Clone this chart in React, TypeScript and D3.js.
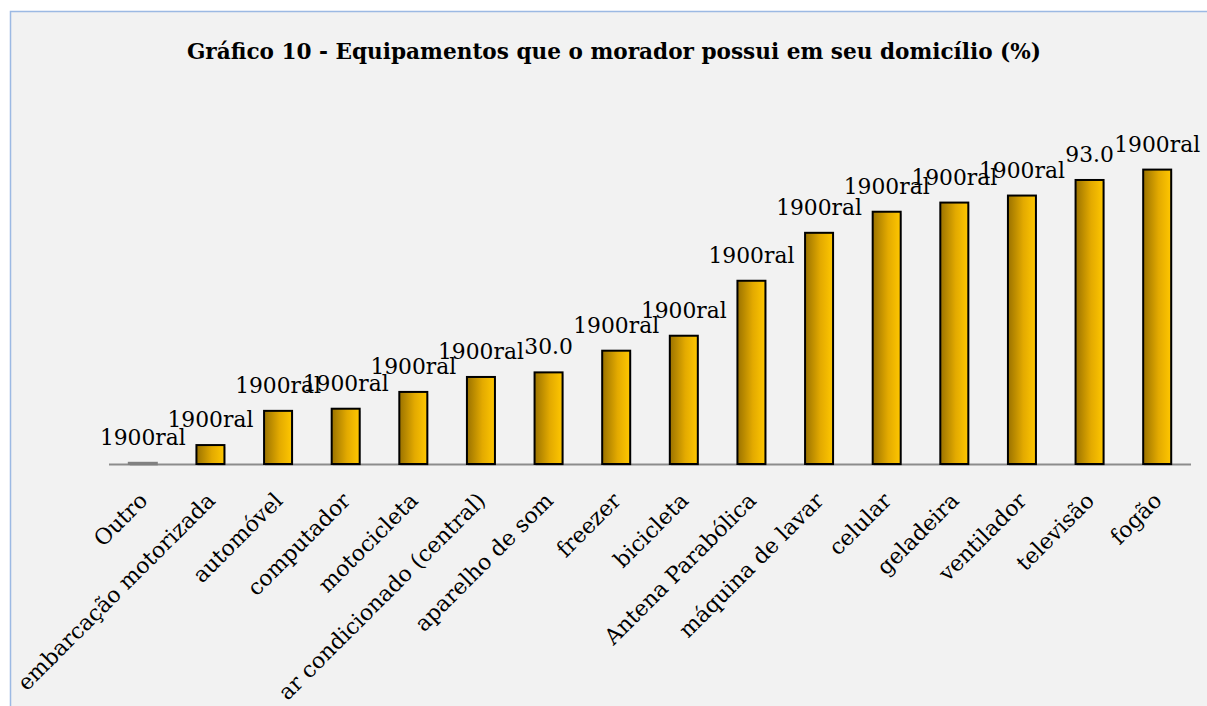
import React, { useEffect, useRef } from "react";
import * as d3 from "d3";

const categories = [
  "Outro", "embarcação motorizada", "automóvel", "computador", "motocicleta",
  "ar condicionado (central)", "aparelho de som", "freezer", "bicicleta",
  "Antena Parabólica", "máquina de lavar", "celular", "geladeira",
  "ventilador", "televisão", "fogão",
];
const values = [0.4, 6.2, 17.4, 18.1, 23.6, 28.5, 30.0, 37.1, 42.0, 60.0, 75.7, 82.6, 85.6, 87.9, 93.0, 96.4];
const valueLabels = [
  "1900ral", "1900ral", "1900ral", "1900ral", "1900ral", "1900ral", "30.0", "1900ral",
  "1900ral", "1900ral", "1900ral", "1900ral", "1900ral", "1900ral", "93.0", "1900ral",
];

const W = 1207;
const H = 706;
const serif = "'DejaVu Serif', serif";

export default function App() {
  const node = useRef<SVGSVGElement>(null);

  useEffect(() => {
    const svg = d3.select(node.current);
    svg.selectAll("*").remove();

    const x = d3.scaleBand<string>().domain(categories).range([109, 1191]).paddingInner(0.586).paddingOuter(0.293);
    const y = d3.scaleLinear().domain([0, 100]).range([464, 158.6]);

    const grad = svg.append("defs").append("linearGradient")
      .attr("id", "gold").attr("x1", 0).attr("x2", 1).attr("y1", 0).attr("y2", 0);
    grad.append("stop").attr("offset", "0%").attr("stop-color", "#9a7200");
    grad.append("stop").attr("offset", "55%").attr("stop-color", "#e3aa00");
    grad.append("stop").attr("offset", "100%").attr("stop-color", "#ffc700");

    // chart area
    svg.append("rect")
      .attr("x", 10.5).attr("y", 11.5).attr("width", W).attr("height", H)
      .attr("fill", "#f2f2f2").attr("stroke", "#9cb9e3").attr("stroke-width", 1.5);

    svg.append("text")
      .attr("x", 614).attr("y", 59)
      .attr("text-anchor", "middle")
      .attr("font-family", serif).attr("font-weight", "bold").attr("font-size", 21.6)
      .text("Gráfico 10 - Equipamentos que o morador possui em seu domicílio (%)");

    // bar shadows
    svg.append("g").selectAll("rect")
      .data(values)
      .join("rect")
      .attr("x", (d, i) => x(categories[i])! + 1)
      .attr("y", d => y(d) + 2)
      .attr("width", x.bandwidth())
      .attr("height", d => y(0) - y(d))
      .attr("fill", "#000").attr("opacity", 0.18);

    svg.append("line")
      .attr("x1", 109).attr("x2", 1191).attr("y1", 464.5).attr("y2", 464.5)
      .attr("stroke", "#8c8c8c").attr("stroke-width", 2);

    svg.append("g").selectAll("rect")
      .data(values)
      .join("rect")
      .attr("x", (d, i) => x(categories[i])!)
      .attr("y", d => y(d))
      .attr("width", x.bandwidth())
      .attr("height", d => y(0) - y(d))
      .attr("fill", "url(#gold)")
      .attr("stroke", d => (y(0) - y(d) < 2 ? "#808080" : "#000"))
      .attr("stroke-width", 2);

    svg.append("g")
      .attr("font-family", serif).attr("font-size", 21.8).attr("text-anchor", "middle")
      .selectAll("text")
      .data(values)
      .join("text")
      .attr("x", (d, i) => x(categories[i])! + x.bandwidth() / 2)
      .attr("y", d => y(d) - 18)
      .text((d, i) => valueLabels[i]);

    svg.append("g")
      .attr("font-family", serif).attr("font-size", 22).attr("text-anchor", "end")
      .selectAll("text")
      .data(categories)
      .join("text")
      .attr("transform", d => `translate(${x(d)! + x.bandwidth() / 2 + 6},502) rotate(-45)`)
      .text(d => d);
  }, []);

  return (
    <svg ref={node} width={W} height={H}
      style={{ position: "absolute", left: 0, top: 0, background: "#fff" }} />
  );
}
